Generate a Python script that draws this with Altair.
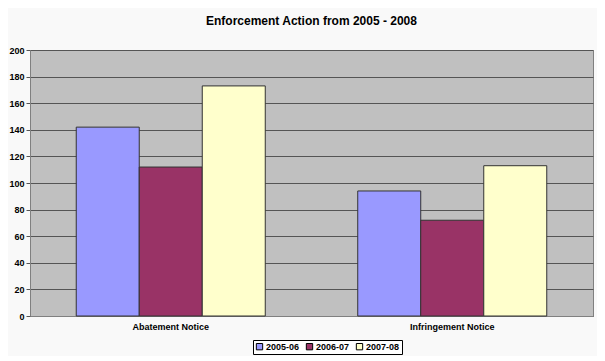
import altair as alt
import pandas as pd

categories = ["Abatement Notice", "Infringement Notice"]
series = ["2005-06", "2006-07", "2007-08"]
values = {
    "2005-06": [142, 94],
    "2006-07": [112, 72],
    "2007-08": [173, 113],
}
colors = ["#9999ff", "#993366", "#ffffcc"]
y_ticks = [0, 20, 40, 60, 80, 100, 120, 140, 160, 180, 200]

rows = []
for s in series:
    for c, v in zip(categories, values[s]):
        rows.append({"category": c, "year": s, "value": v})
df = pd.DataFrame(rows)

chart = alt.Chart(df).mark_bar(stroke="#333333", strokeWidth=1).encode(
    x=alt.X("category:N", sort=categories, title=None,
            scale=alt.Scale(paddingInner=0, paddingOuter=0),
            axis=alt.Axis(labelAngle=0, labelFont="Liberation Sans", labelFontSize=9,
                          labelFontWeight="bold", labelColor="#000000",
                          domainColor="#808080", tickColor="#808080", ticks=False,
                          labelPadding=6)),
    xOffset=alt.XOffset("year:N", sort=series,
                        scale=alt.Scale(paddingInner=0, paddingOuter=0.734)),
    y=alt.Y("value:Q", title=None,
            scale=alt.Scale(domain=[0, 200], nice=False),
            axis=alt.Axis(values=y_ticks, labelFont="Liberation Sans", labelFontSize=9,
                          labelFontWeight="bold", labelColor="#000000",
                          grid=True, gridColor="#555555", gridWidth=1,
                          domainColor="#808080", tickColor="#555555", tickSize=4,
                          labelPadding=2)),
    color=alt.Color("year:N", sort=series,
                    scale=alt.Scale(domain=series, range=colors),
                    legend=alt.Legend(title=None, orient="none", legendX=223, legendY=290,
                                      direction="horizontal", symbolType="square",
                                      symbolSize=40, symbolStrokeColor="#000000",
                                      symbolStrokeWidth=1, labelFont="Liberation Sans",
                                      labelFontSize=9, labelFontWeight="bold",
                                      labelColor="#000000", strokeColor="#000000",
                                      padding=2, columnPadding=4, labelOffset=2,
                                      fillColor="#ffffff")),
).properties(
    width=563,
    height=266,
    title=alt.Title("Enforcement Action from 2005 - 2008", font="Liberation Sans",
                    fontSize=12, fontWeight="bold", color="#000000", anchor="middle",
                    offset=18),
    background="#f9f9f9",
    padding={"left": 22, "top": 42, "right": 4, "bottom": 40},
    autosize=alt.AutoSizeParams(type="none"),
).configure_view(fill="#c0c0c0", stroke="#808080")

chart.save("out.html", embed_options={"renderer": "svg", "actions": False})
